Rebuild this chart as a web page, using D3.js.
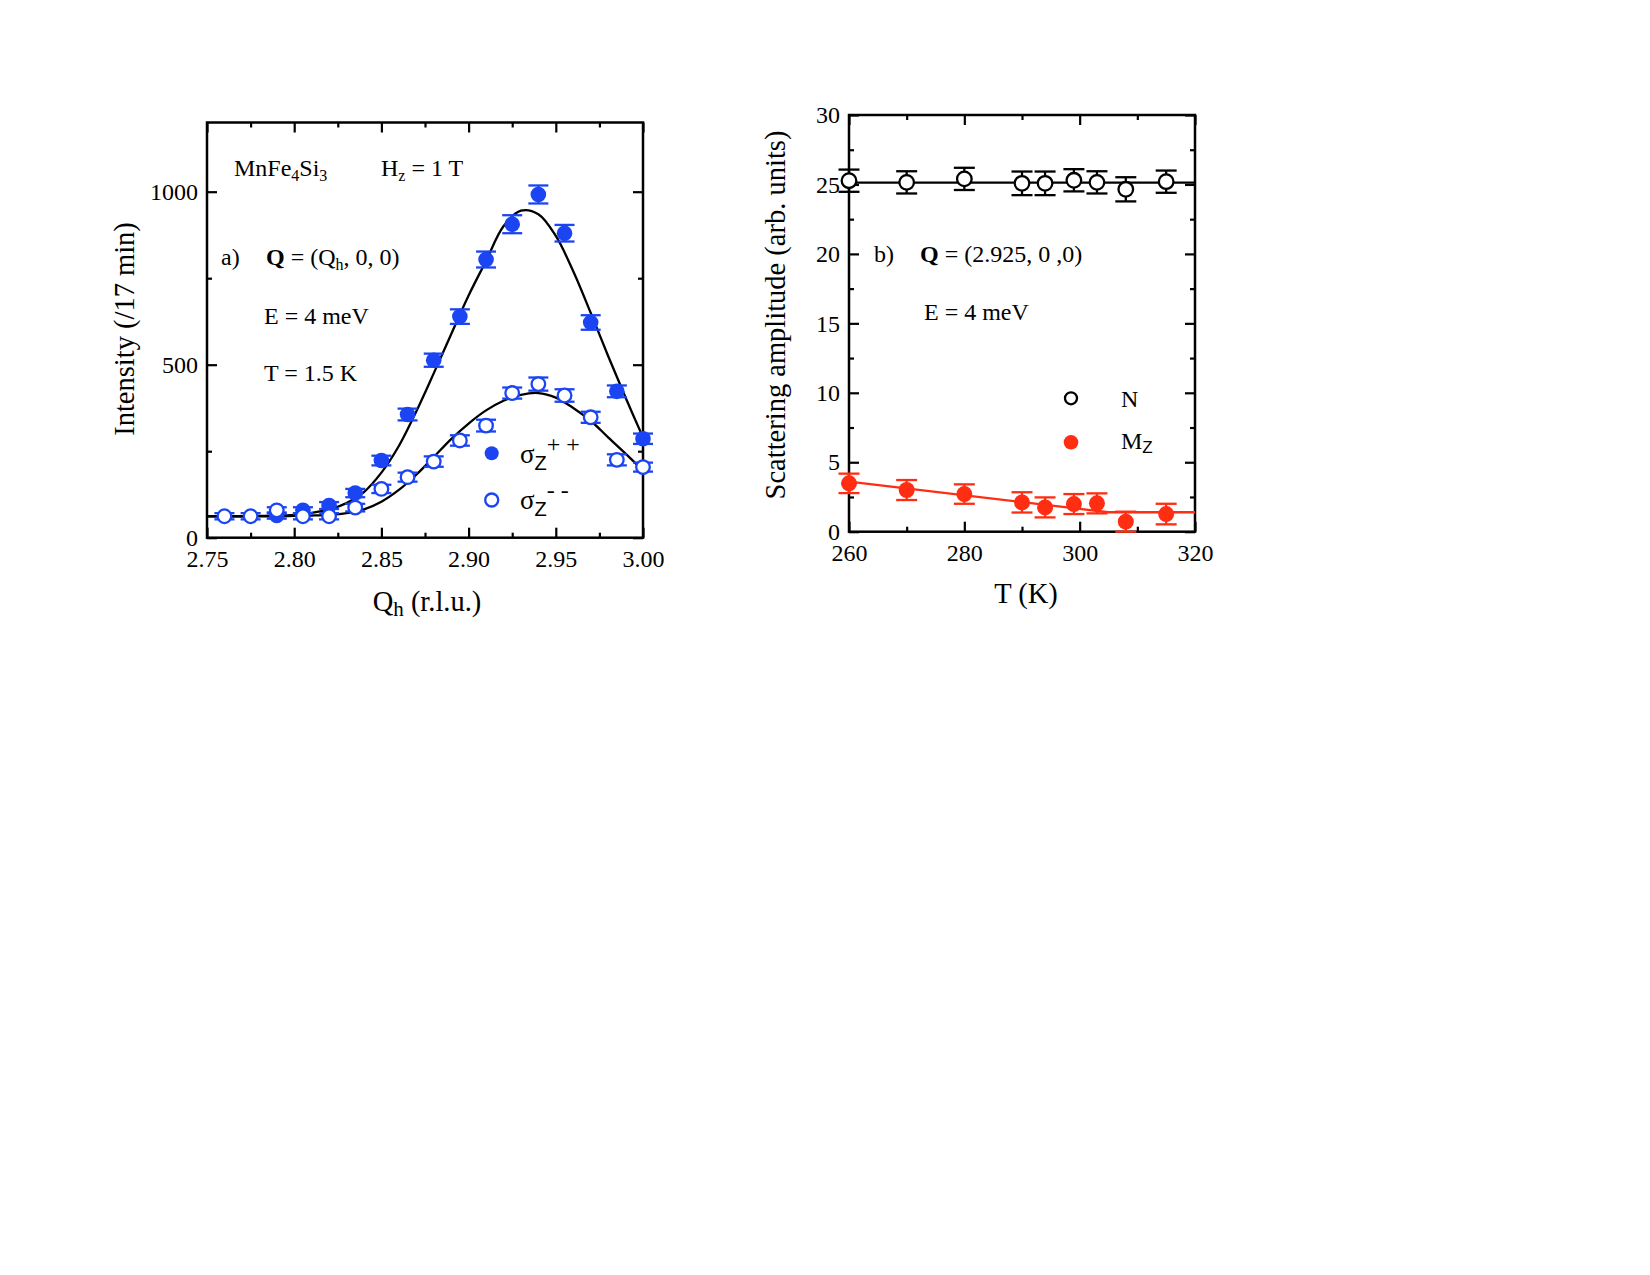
<!DOCTYPE html>
<html>
<head>
<meta charset="utf-8">
<script src="https://cdn.jsdelivr.net/npm/d3@7"></script>
<style>
  html, body { margin: 0; padding: 0; background: #fff; }
  svg { display: block; }
  text { font-family: "Liberation Serif", "DejaVu Serif", serif; fill: #000; }
</style>
</head>
<body>
<svg id="chart" width="1650" height="1275"></svg>
<script>
// ---------------- Panel a) data ----------------
const qhPP  = [2.79, 2.805, 2.82, 2.835, 2.85, 2.865, 2.88, 2.895, 2.91, 2.925, 2.94, 2.955, 2.97, 2.985, 3.00];
const intPP = [64, 79, 93, 129, 223, 356, 513, 639, 804, 906, 992, 880, 622, 423, 286];
const errPP = [9, 9, 10, 12, 14, 17, 19, 21, 23, 26, 26, 24, 21, 17, 15];

const qhMM  = [2.76, 2.775, 2.79, 2.805, 2.82, 2.835, 2.85, 2.865, 2.88, 2.895, 2.91, 2.925, 2.94, 2.955, 2.97, 2.985, 3.00];
const intMM = [62, 62, 79, 62, 62, 87, 141, 175, 220, 281, 324, 418, 444, 411, 348, 225, 204];
const errMM = [9, 9, 9, 9, 9, 11, 12, 13, 15, 15, 17, 16, 19, 18, 16, 16, 13];

const fitQ  = [2.75, 2.76, 2.77, 2.78, 2.79, 2.80, 2.81, 2.82, 2.83, 2.84, 2.85, 2.86, 2.87, 2.88, 2.89, 2.90, 2.91, 2.92, 2.93, 2.94, 2.95, 2.96, 2.97, 2.98, 2.99, 3.00];
const fitPP = [62, 62, 62, 63, 64, 66, 72, 82, 100, 132, 188, 265, 365, 475, 588, 700, 800, 900, 945, 935, 872, 770, 650, 525, 405, 290];
const fitMM = [62, 62, 62, 62, 62, 63, 64, 66, 71, 82, 104, 138, 182, 233, 285, 330, 368, 396, 413, 418, 405, 375, 338, 290, 243, 194];

const xTicksA = [2.75, 2.80, 2.85, 2.90, 2.95, 3.00];
const xMinorA = [2.775, 2.825, 2.875, 2.925, 2.975];
const yTicksA = [0, 500, 1000];
const yMinorA = [250, 750, 1250];

// ---------------- Panel b) data ----------------
const tempN = [260, 270, 280, 290, 294, 299, 303, 308, 315];
const ampN  = [25.27, 25.15, 25.4, 25.08, 25.08, 25.3, 25.15, 24.65, 25.2];
const errN  = [0.8, 0.8, 0.8, 0.85, 0.85, 0.8, 0.8, 0.87, 0.8];

const tempM = [260, 270, 280, 290, 294, 299, 303, 308, 315];
const ampM  = [3.48, 3.0, 2.71, 2.11, 1.75, 1.99, 2.04, 0.72, 1.27];
const errM  = [0.7, 0.72, 0.7, 0.73, 0.72, 0.72, 0.72, 0.72, 0.74];

const fitNT = [260, 320];
const fitNA = [25.13, 25.13];
const fitMT = [260, 305, 320];
const fitMA = [3.6, 1.4, 1.4];

const xTicksB = [260, 280, 300, 320];
const xMinorB = [270, 290, 310];
const yTicksB = [0, 5, 10, 15, 20, 25, 30];
const yMinorB = [2.5, 7.5, 12.5, 17.5, 22.5, 27.5];

// ---------------- Styles ----------------
const BLUE = "#1b45f2";
const RED  = "#ff2d12";

const svg = d3.select("#chart");
svg.append("rect").attr("width", 1650).attr("height", 1275).attr("fill", "#fff");

function drawFrame(g, x, y, opts) {
  const [x0, x1] = x.range();
  const [y0, y1] = y.range();
  const H = y0 - y1, W = x1 - x0;
  const MAJ = 10, MIN = 5;

  g.append("g").attr("transform", `translate(0,${y0})`)
    .call(d3.axisBottom(x).tickValues(opts.xTicks).tickFormat(opts.fmtX).tickSizeInner(-MAJ).tickSizeOuter(0).tickPadding(12));
  g.append("g").attr("transform", `translate(0,${y0})`)
    .call(d3.axisBottom(x).tickValues(opts.xMinor).tickFormat("").tickSizeInner(-MIN).tickSizeOuter(0));
  g.append("g").attr("transform", `translate(0,${y1})`)
    .call(d3.axisTop(x).tickValues(opts.xTicks).tickFormat("").tickSizeInner(-MAJ).tickSizeOuter(0));
  g.append("g").attr("transform", `translate(0,${y1})`)
    .call(d3.axisTop(x).tickValues(opts.xMinor).tickFormat("").tickSizeInner(-MIN).tickSizeOuter(0));

  const yMin = opts.yMinor.filter(v => v < y.domain()[1]);
  g.append("g").attr("transform", `translate(${x0},0)`)
    .call(d3.axisLeft(y).tickValues(opts.yTicks).tickFormat(opts.fmtY).tickSizeInner(-MAJ).tickSizeOuter(0).tickPadding(9));
  g.append("g").attr("transform", `translate(${x0},0)`)
    .call(d3.axisLeft(y).tickValues(yMin).tickFormat("").tickSizeInner(-MIN).tickSizeOuter(0));
  g.append("g").attr("transform", `translate(${x1},0)`)
    .call(d3.axisRight(y).tickValues(opts.yTicks).tickFormat("").tickSizeInner(-MAJ).tickSizeOuter(0));
  g.append("g").attr("transform", `translate(${x1},0)`)
    .call(d3.axisRight(y).tickValues(yMin).tickFormat("").tickSizeInner(-MIN).tickSizeOuter(0));

  g.selectAll(".domain").remove();
  g.selectAll(".tick line").attr("stroke", "#000").attr("stroke-width", 2.2);
  g.selectAll(".tick text").attr("font-family", "Liberation Serif").attr("font-size", 24).attr("fill", "#000");

  g.append("rect").attr("x", x0).attr("y", y1).attr("width", W).attr("height", H)
    .attr("fill", "none").attr("stroke", "#000").attr("stroke-width", 2.5);
}

function drawSeries(g, x, y, xs, vs, es, color, filled, r, cap) {
  const data = xs.map((d, i) => ({ x: d, v: vs[i], e: es[i] }));
  const eb = g.append("g").attr("stroke", color).attr("stroke-width", 2.3);
  data.forEach(d => {
    const cx = x(d.x), lo = y(d.v - d.e), hi = y(d.v + d.e);
    eb.append("line").attr("x1", cx).attr("x2", cx).attr("y1", lo).attr("y2", hi);
    eb.append("line").attr("x1", cx - cap).attr("x2", cx + cap).attr("y1", lo).attr("y2", lo);
    eb.append("line").attr("x1", cx - cap).attr("x2", cx + cap).attr("y1", hi).attr("y2", hi);
  });
  g.append("g").selectAll("circle").data(data).join("circle")
    .attr("cx", d => x(d.x)).attr("cy", d => y(d.v)).attr("r", r)
    .attr("fill", filled ? color : "#fff")
    .attr("stroke", color).attr("stroke-width", filled ? 0 : 2.3);
}

function drawFit(g, x, y, xs, vs, color, curve) {
  const pts = xs.map((d, i) => [d, vs[i]]);
  g.append("path").datum(pts)
    .attr("d", d3.line().x(d => x(d[0])).y(d => y(d[1])).curve(curve))
    .attr("fill", "none").attr("stroke", color).attr("stroke-width", 2.3);
}

// ================= Panel a =================
{
  const x = d3.scaleLinear().domain([2.75, 3.00]).range([207, 643]);
  const y = d3.scaleLinear().domain([0, 1200]).range([537.7, 122.5]);
  const g = svg.append("g");

  drawFrame(g, x, y, {
    xTicks: xTicksA, xMinor: xMinorA, yTicks: yTicksA, yMinor: yMinorA,
    fmtX: d3.format(".2f"), fmtY: d3.format("d")
  });

  drawFit(g, x, y, fitQ, fitPP, "#000", d3.curveCatmullRom);
  drawFit(g, x, y, fitQ, fitMM, "#000", d3.curveCatmullRom);

  drawSeries(g, x, y, qhPP, intPP, errPP, BLUE, true, 7.8, 10);
  drawSeries(g, x, y, qhMM, intMM, errMM, BLUE, false, 6.8, 10);

  g.append("text").attr("transform", "translate(124,329) rotate(-90)")
    .attr("text-anchor", "middle").attr("dy", "0.35em").attr("font-size", 28.5)
    .text("Intensity (/17 min)");
  const xt = g.append("text").attr("x", 427).attr("y", 611).attr("text-anchor", "middle").attr("font-size", 28.5);
  xt.append("tspan").text("Q");
  xt.append("tspan").attr("font-size", 21).attr("dy", 5).text("h");
  xt.append("tspan").attr("dy", -5).text(" (r.l.u.)");

  const t1 = g.append("text").attr("x", 234).attr("y", 176).attr("font-size", 24);
  t1.append("tspan").text("MnFe");
  t1.append("tspan").attr("font-size", 16).attr("dy", 5).text("4");
  t1.append("tspan").attr("dy", -5).text("Si");
  t1.append("tspan").attr("font-size", 16).attr("dy", 5).text("3");
  const t2 = g.append("text").attr("x", 381).attr("y", 176).attr("font-size", 24);
  t2.append("tspan").text("H");
  t2.append("tspan").attr("font-size", 16).attr("dy", 5).text("z");
  t2.append("tspan").attr("dy", -5).text(" = 1 T");

  g.append("text").attr("x", 221).attr("y", 265).attr("font-size", 24).text("a)");
  const t3 = g.append("text").attr("x", 266).attr("y", 265).attr("font-size", 24);
  t3.append("tspan").attr("font-weight", "bold").text("Q");
  t3.append("tspan").text(" = (Q");
  t3.append("tspan").attr("font-size", 16).attr("dy", 5).text("h");
  t3.append("tspan").attr("dy", -5).text(", 0, 0)");
  g.append("text").attr("x", 264).attr("y", 324).attr("font-size", 24).text("E = 4 meV");
  g.append("text").attr("x", 264).attr("y", 381).attr("font-size", 24).text("T = 1.5 K");

  // legend
  g.append("circle").attr("cx", 491.7).attr("cy", 453.3).attr("r", 7).attr("fill", BLUE);
  g.append("circle").attr("cx", 491.7).attr("cy", 500).attr("r", 6.5).attr("fill", "#fff")
    .attr("stroke", BLUE).attr("stroke-width", 2.3);
  const l1 = g.append("text").attr("x", 520).attr("y", 463).attr("font-size", 27);
  l1.append("tspan").text("σ");
  l1.append("tspan").attr("font-family", "Liberation Sans").attr("font-size", 20).attr("dy", 7).text("Z");
  l1.append("tspan").attr("font-size", 24).attr("dy", -18).text("+ +");
  const l2 = g.append("text").attr("x", 520).attr("y", 509).attr("font-size", 27);
  l2.append("tspan").text("σ");
  l2.append("tspan").attr("font-family", "Liberation Sans").attr("font-size", 20).attr("dy", 7).text("Z");
  l2.append("tspan").attr("font-size", 24).attr("dy", -18).text("- -");
}

// ================= Panel b =================
{
  const x = d3.scaleLinear().domain([260, 320]).range([849, 1195]);
  const y = d3.scaleLinear().domain([0, 30]).range([531.7, 115]);
  const g = svg.append("g");

  drawFrame(g, x, y, {
    xTicks: xTicksB, xMinor: xMinorB, yTicks: yTicksB, yMinor: yMinorB,
    fmtX: d3.format("d"), fmtY: d3.format("d")
  });

  drawFit(g, x, y, fitNT, fitNA, "#000", d3.curveLinear);
  drawFit(g, x, y, fitMT, fitMA, RED, d3.curveLinear);

  drawSeries(g, x, y, tempN, ampN, errN, "#000", false, 7.3, 10.5);
  drawSeries(g, x, y, tempM, ampM, errM, RED, true, 8, 10.5);

  g.append("text").attr("transform", "translate(775,315) rotate(-90)")
    .attr("text-anchor", "middle").attr("dy", "0.35em").attr("font-size", 28.5)
    .text("Scattering amplitude (arb. units)");
  g.append("text").attr("x", 1026).attr("y", 603).attr("text-anchor", "middle").attr("font-size", 28.5)
    .text("T (K)");

  g.append("text").attr("x", 874).attr("y", 262).attr("font-size", 24).text("b)");
  const t3 = g.append("text").attr("x", 920).attr("y", 262).attr("font-size", 24);
  t3.append("tspan").attr("font-weight", "bold").text("Q");
  t3.append("tspan").text(" = (2.925, 0 ,0)");
  g.append("text").attr("x", 924).attr("y", 320).attr("font-size", 24).text("E = 4 meV");

  g.append("circle").attr("cx", 1071).attr("cy", 398.3).attr("r", 6).attr("fill", "#fff")
    .attr("stroke", "#000").attr("stroke-width", 2.3);
  g.append("circle").attr("cx", 1071).attr("cy", 442.3).attr("r", 7.3).attr("fill", RED);
  g.append("text").attr("x", 1121).attr("y", 407).attr("font-size", 24).text("N");
  const lm = g.append("text").attr("x", 1121).attr("y", 449).attr("font-size", 24);
  lm.append("tspan").text("M");
  lm.append("tspan").attr("font-family", "Liberation Sans").attr("font-size", 17).attr("dy", 4).text("Z");
}
</script>
</body>
</html>
